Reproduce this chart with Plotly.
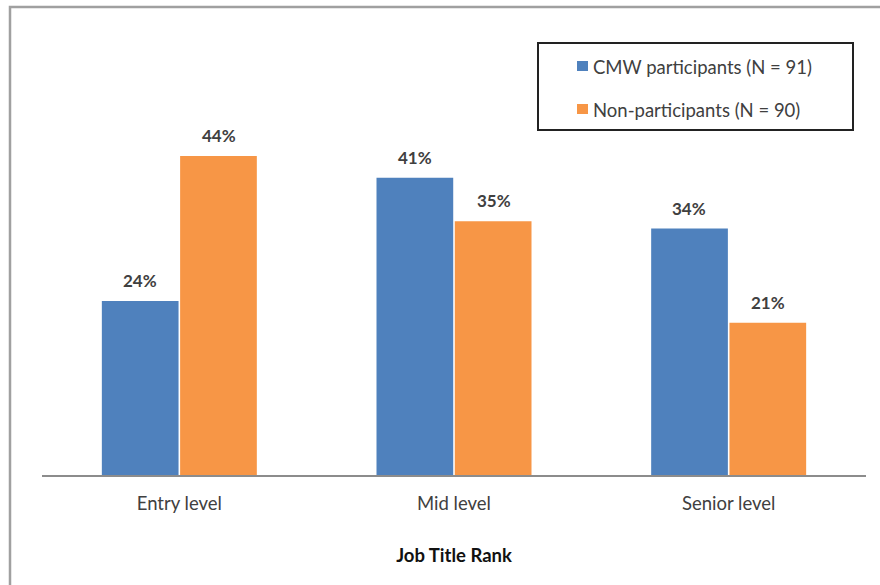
import plotly.graph_objects as go

categories = ["Entry level", "Mid level", "Senior level"]
cmw_values = [24, 41, 34]
non_values = [44, 35, 21]
series_names = ["CMW participants (N = 91)", "Non-participants (N = 90)"]
x_title = "Job Title Rank"

BLUE = "#4F81BD"
ORANGE = "#F79646"
TXT = "#404040"
FONT = "Lato, Carlito, Calibri, 'Open Sans', sans-serif"

fig = go.Figure()
fig.add_trace(go.Bar(x=categories, y=cmw_values, name=series_names[0],
                     marker=dict(color=BLUE, line=dict(width=0)), showlegend=False))
fig.add_trace(go.Bar(x=categories, y=non_values, name=series_names[1],
                     marker=dict(color=ORANGE, line=dict(width=0)), showlegend=False))

# data labels
for vals, shift in ((cmw_values, -39.5), (non_values, 39.5)):
    for c, v in zip(categories, vals):
        fig.add_annotation(x=c, y=v, text=f"<b>{v}%</b>", showarrow=False,
                           xshift=shift, yshift=8, yanchor="bottom",
                           font=dict(size=17, color=TXT, family=FONT))

# plot geometry in pixels (for paper-relative shapes)
L, R, T, B = 42, 866, 40, 475
W, H = R - L, B - T
px = lambda x: (x - L) / W
py = lambda y: (B - y) / H

shapes = [
    # outer frame (top and left visible)
    dict(type="rect", xref="paper", yref="paper", x0=px(10), x1=px(900),
         y0=py(600), y1=py(7), line=dict(color="#A0A0A0", width=2.5), layer="below"),
    # legend box
    dict(type="rect", xref="paper", yref="paper", x0=px(538), x1=px(853),
         y0=py(130), y1=py(43), line=dict(color="#222222", width=2)),
    dict(type="rect", xref="paper", yref="paper", x0=px(577), x1=px(588),
         y0=py(71), y1=py(61), line=dict(width=0), fillcolor=BLUE),
    dict(type="rect", xref="paper", yref="paper", x0=px(577), x1=px(588),
         y0=py(114), y1=py(104), line=dict(width=0), fillcolor=ORANGE),
]
fig.add_annotation(xref="paper", yref="paper", x=px(591), y=py(67), text=series_names[0],
                   showarrow=False, xanchor="left", yanchor="middle",
                   font=dict(size=18.5, color=TXT, family=FONT))
fig.add_annotation(xref="paper", yref="paper", x=px(591), y=py(110), text=series_names[1],
                   showarrow=False, xanchor="left", yanchor="middle",
                   font=dict(size=18.5, color=TXT, family=FONT))

fig.update_layout(
    width=880, height=585,
    margin=dict(l=L, r=880 - R, t=T, b=585 - B),
    paper_bgcolor="white", plot_bgcolor="white",
    barmode="group", bargap=0.43, bargroupgap=0.02,
    shapes=shapes,
    font=dict(family=FONT, color=TXT),
    xaxis=dict(showline=True, linecolor="#8C8C8C", linewidth=2, ticks="",
               showgrid=False, tickfont=dict(size=18.5, color=TXT),
               ticklabelstandoff=11,
               title=dict(text=f"<b>{x_title}</b>", font=dict(size=18.5, color="#111111"), standoff=36)),
    yaxis=dict(range=[0, 60], visible=False, showgrid=False, zeroline=False),
)

fig.write_html("out.html", config={"displayModeBar": False},
               post_script="document.body.style.margin='0';document.body.style.overflow='hidden';")
